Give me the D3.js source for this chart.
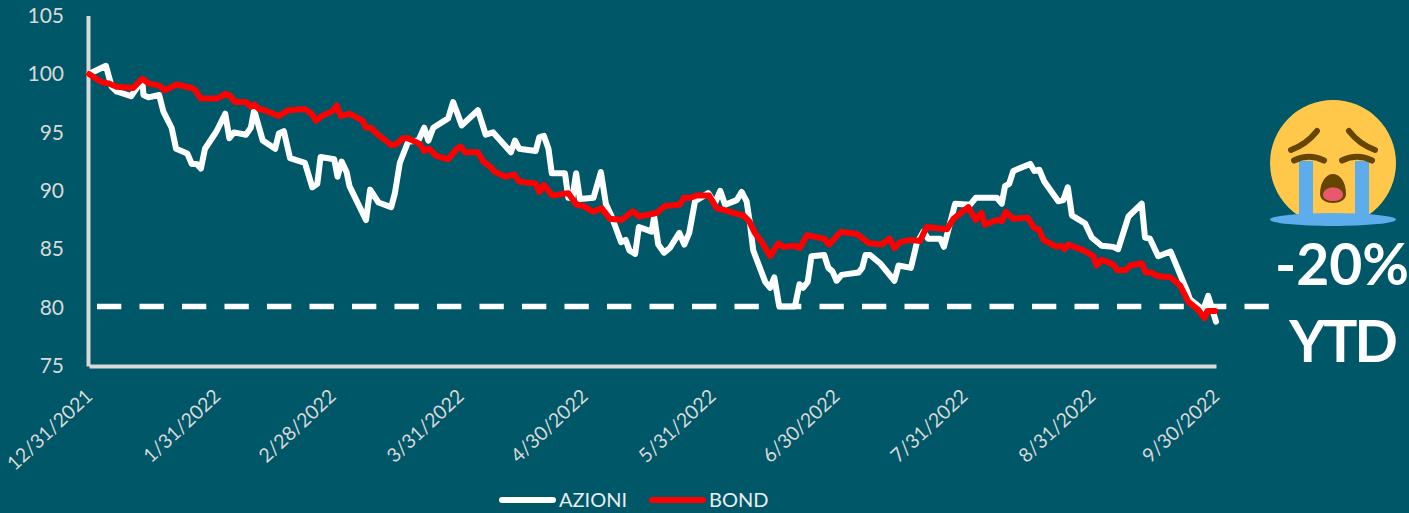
<!DOCTYPE html>
<meta charset="utf-8">
<style>

body {
  margin: 0;
  background: #005768;
}

text {
  font-family: Lato, sans-serif;
}

</style>
<body>
<div id="chart"></div>
</body>

<script src="https://d3js.org/d3.v7.min.js"></script>
<script>

    // days elapsed since 12/31/2021 and index level
    var azioniDays = [0, 4.1, 5.5, 6.7, 10.2, 12.9, 13.2, 14.4, 17, 18, 20, 21.1, 23.8, 24.9, 26.1, 27.1, 28.1, 30.9, 33, 34, 35.1, 38, 39.2, 40, 42.1, 45.1, 46, 47.2, 48.7, 52.3, 54.1, 55.3, 56.1, 59.4, 60.2, 61.2, 62.4, 63.1, 67.1, 68.1, 70.1, 73.2, 74.1, 75.3, 77.3, 79.8, 81.2, 82.2, 83.4, 87, 88.2, 90.3, 94.2, 96.1, 97.9, 102.2, 103.2, 104.2, 108.2, 109.1, 110.2, 111.3, 112.1, 115.3, 116.1, 117.1, 118, 118.9, 122.2, 124, 125.2, 126.6, 128.9, 130, 130.9, 132.3, 133.2, 136.3, 136.9, 137.9, 139.3, 140.7, 143, 144.2, 145.4, 146.8, 150, 151.6, 152.9, 154.1, 156.9, 158.1, 159.3, 160.1, 160.9, 163.8, 165, 166, 167.2, 171, 172.1, 173, 174.1, 175, 178.1, 179.1, 180.1, 181.1, 182.3, 186.4, 187.3, 188.1, 189.2, 191.6, 195.1, 196.1, 199.1, 200.5, 202.1, 203.3, 206.2, 207.1, 209.8, 213.4, 214.8, 219.9, 221.1, 221.9, 222.9, 223.9, 228, 229, 230.2, 231.4, 234.8, 236, 237.1, 238.1, 241.3, 242.9, 245.3, 248.1, 249.3, 251.8, 255, 255.8, 257, 259, 262, 265.9, 266.7, 269.9, 271.1, 273];
    var azioniValues = [100, 100.7, 98.9, 98.5, 98.1, 99.5, 98.2, 98, 98.2, 96.8, 95.4, 93.6, 93.2, 92.3, 92.3, 91.9, 93.6, 95.1, 96.6, 94.5, 95, 94.8, 95.4, 96.9, 94.3, 93.6, 94.9, 95.1, 92.8, 92.4, 90.3, 90.6, 92.9, 92.7, 91.2, 92.5, 91.6, 90.4, 87.5, 90.1, 89, 88.6, 89.8, 92.4, 94.2, 94.3, 95.4, 94.3, 95.4, 96.2, 97.6, 95.6, 96.9, 94.8, 95, 93.3, 94.3, 93.6, 93.4, 94.6, 94.7, 93.6, 91.5, 91.5, 89.4, 89.4, 91.5, 89.3, 89.4, 91.6, 88.9, 87.8, 85.6, 85.8, 84.9, 84.6, 86.9, 86.5, 87.8, 85.4, 84.7, 85.1, 86.4, 85.4, 86.4, 89.1, 89.8, 88.9, 90, 88.8, 89.2, 89.9, 89.1, 87.2, 84.9, 82.2, 81.7, 82.6, 80.1, 80.1, 82, 81.7, 82.2, 84.4, 84.5, 83.4, 83.1, 82.3, 82.8, 83, 83.4, 84.5, 84.5, 83.8, 82.3, 83.6, 83.4, 85.5, 86.5, 85.9, 85.9, 85.2, 88.9, 88.8, 89.4, 89.4, 88.9, 90.4, 90.6, 91.7, 92.3, 91.7, 91.8, 90.8, 89.1, 89.2, 90.3, 87.9, 87.2, 86, 85.3, 85.2, 85, 87.8, 88.9, 86, 85.9, 84.4, 84.8, 81.5, 80.7, 79.8, 81, 78.8];

    var bondDays = [0, 3.1, 4.7, 6.7, 10.7, 12.9, 14.4, 17, 18.4, 21.2, 24.9, 25.8, 27.1, 31.1, 33, 34, 35.4, 38, 39.2, 40, 41.2, 42.6, 45.9, 48.3, 52.3, 53.9, 55, 56.4, 58.9, 60, 61, 63.1, 66.3, 67.1, 68.3, 69.7, 73.3, 74.5, 76, 77.3, 80.2, 81.2, 82.4, 84.1, 87, 89.1, 90, 91.1, 94.2, 95.5, 97.1, 98.4, 100.9, 103, 104.2, 108.2, 109.1, 110.2, 112.2, 116.1, 118.1, 119.7, 122.2, 124.2, 126.2, 129, 131.5, 132, 133.2, 137.5, 139.5, 143, 144.1, 145.6, 147.2, 150.2, 152.1, 153.3, 156.1, 158.5, 159.9, 161.3, 163, 165, 167, 168.2, 171, 172.2, 173.9, 178.1, 179.3, 182.1, 186, 189, 192, 193.9, 195.1, 196.5, 198.9, 201.3, 202.9, 207.8, 209.4, 213, 214.8, 216.2, 217, 219.9, 221.1, 222.1, 223.9, 227.4, 229, 230.1, 231.2, 234.4, 235.6, 236.3, 237.2, 240.9, 243.3, 244.1, 245.3, 248.1, 249.1, 251.1, 252.2, 255, 256, 257.4, 258.7, 262, 264.3, 266.3, 268.7, 270.2, 270.9, 272.8];
    var bondValues = [100, 99.3, 99.2, 98.9, 98.8, 99.6, 99.2, 99, 98.6, 99.1, 98.8, 98.6, 97.9, 97.9, 98.3, 98.2, 97.6, 97.6, 97.2, 97.4, 97, 96.9, 96.4, 96.9, 97, 96.6, 96, 96.4, 96.8, 97.3, 96.4, 96.6, 96, 95.4, 95.4, 94.9, 93.9, 94, 94.5, 94.5, 94, 93.4, 93.6, 93, 92.7, 93.6, 93.8, 93.3, 93.3, 92.5, 92.1, 91.6, 91.2, 91.4, 90.8, 90.6, 89.9, 90.5, 89.6, 89.8, 88.8, 88.7, 88.2, 88.5, 87.6, 87.5, 88.2, 88.2, 87.8, 88.1, 88.7, 88.8, 89.4, 89.4, 89.6, 89.6, 88.5, 88.4, 88.1, 87.9, 87.4, 86.4, 85.6, 84.4, 85.5, 85.2, 85.3, 85.1, 86.2, 85.9, 85.4, 86.5, 86.3, 85.5, 85.4, 85.9, 85.1, 85.6, 85.8, 85.7, 86.9, 86.7, 87.6, 88.6, 87.5, 88.1, 87.1, 87.5, 87.4, 88.2, 87.6, 87.7, 86.8, 86.7, 85.8, 85.2, 85.3, 85, 85.4, 84.9, 84.4, 83.6, 84.1, 83.7, 83.2, 83.2, 83.6, 83.8, 83, 83, 82.7, 82.6, 81.9, 80.5, 79.8, 79.1, 79.7, 79.7];

    var tickDates = ["12/31/2021", "1/31/2022", "2/28/2022", "3/31/2022", "4/30/2022", "5/31/2022", "6/30/2022", "7/31/2022", "8/31/2022", "9/30/2022"];
    var tickValues = [75, 80, 85, 90, 95, 100, 105];
    var targetLevel = 80.1;

    var seriesNames = ["AZIONI", "BOND"];
    var seriesColors = ["#ffffff", "#ff0000"];

    var width = 1409,
            height = 513,
            parseDate = d3.timeParse("%m/%d/%Y"),
            startDate = parseDate(tickDates[0]);

    var x = d3.scaleTime()
            .domain([startDate, parseDate(tickDates[tickDates.length - 1])])
            .range([89, 1216]);

    var y = d3.scaleLinear()
            .domain([75, 105])
            .range([366, 15.6]);

    var svg = d3.select("#chart").append("svg")
            .attr("width", width)
            .attr("height", height)
            .style("display", "block");

    function dayToDate(d) {
        return new Date(startDate.getTime() + d * 864e5);
    }

    function toPoints(days, values) {
        return days.map(function(d, i) {
            return [dayToDate(d), values[i]];
        });
    }

    // axes, no tick marks, labels only
    var yAxis = svg.append("g")
            .attr("transform", "translate(88,0)")
            .call(d3.axisLeft(y).tickValues(tickValues).tickSize(0).tickPadding(24));

    var xAxis = svg.append("g")
            .attr("transform", "translate(0,366)")
            .call(d3.axisBottom(x)
                    .tickValues(tickDates.map(parseDate))
                    .tickFormat(d3.timeFormat("%-m/%-d/%Y"))
                    .tickSize(0));

    yAxis.selectAll("text")
            .style("font-size", "21px")
            .attr("fill", "#d9d9d9");

    xAxis.selectAll("text")
            .style("font-size", "19.5px")
            .attr("fill", "#d9d9d9")
            .attr("text-anchor", "end")
            .attr("dy", "0.32em")
            .attr("transform", "translate(-2,25) rotate(-43)");

    svg.selectAll(".domain")
            .attr("stroke", "#d9d9d9")
            .attr("stroke-width", 4);

    svg.append("line")
            .attr("x1", 97)
            .attr("x2", 1270)
            .attr("y1", y(targetLevel))
            .attr("y2", y(targetLevel))
            .attr("stroke", "#fff")
            .attr("stroke-width", 5.5)
            .attr("stroke-dasharray", "24.3 18.2");

    var line = d3.line()
            .x(function(d) { return x(d[0]); })
            .y(function(d) { return y(d[1]); });

    [toPoints(azioniDays, azioniValues), toPoints(bondDays, bondValues)].forEach(function(points, i) {
        svg.append("path")
                .datum(points)
                .attr("fill", "none")
                .attr("stroke", seriesColors[i])
                .attr("stroke-width", 6)
                .attr("stroke-linejoin", "round")
                .attr("stroke-linecap", "round")
                .attr("d", line);
    });

    // legend
    var legend = svg.selectAll(".legend")
            .data(seriesNames)
            .enter().append("g")
            .attr("class", "legend")
            .attr("transform", function(d, i) { return "translate(" + (502 + i * 150) + ",500)"; });

    legend.append("line")
            .attr("x2", 51)
            .attr("stroke", function(d, i) { return seriesColors[i]; })
            .attr("stroke-width", 6)
            .attr("stroke-linecap", "round");

    legend.append("text")
            .attr("x", 57)
            .attr("y", 7)
            .attr("fill", "#e8eef0")
            .style("font-size", "20px")
            .text(function(d) { return d; });

    // side note
    svg.append("text")
            .attr("x", 1342)
            .attr("y", 285)
            .attr("text-anchor", "middle")
            .attr("fill", "#fff")
            .style("font-size", "57px")
            .style("font-weight", "bold")
            .text("-20%");

    svg.append("text")
            .attr("x", 1342)
            .attr("y", 362)
            .attr("text-anchor", "middle")
            .attr("fill", "#fff")
            .style("font-size", "57px")
            .style("font-weight", "bold")
            .style("letter-spacing", "-3px")
            .text("YTD");

    // crying face
    var face = svg.append("g");

    face.append("circle")
            .attr("cx", 1333).attr("cy", 163).attr("r", 63)
            .attr("fill", "#ffc84a");

    face.selectAll(".tear")
            .data([1299, 1355])
            .enter().append("rect")
            .attr("class", "tear")
            .attr("x", function(d) { return d; })
            .attr("y", 161)
            .attr("width", 14)
            .attr("height", 54)
            .attr("fill", "#5dadec");

    face.append("ellipse")
            .attr("cx", 1333).attr("cy", 219.5).attr("rx", 63).attr("ry", 6.5)
            .attr("fill", "#5dadec");

    face.selectAll(".feature")
            .data([
                "M1317,131 Q1307,144 1291,150",
                "M1349,131 Q1359,144 1375,150",
                "M1294,160.5 Q1309,153 1324,160.5",
                "M1342,160.5 Q1357,153 1372,160.5"
            ])
            .enter().append("path")
            .attr("class", "feature")
            .attr("d", function(d) { return d; })
            .attr("fill", "none")
            .attr("stroke", "#664500")
            .attr("stroke-width", 6)
            .attr("stroke-linecap", "round");

    face.append("path")
            .attr("d", "M1320,194 C1320,182 1326,174 1333,174 C1340,174 1346,182 1346,194 C1346,206 1320,206 1320,194 Z")
            .attr("fill", "#664500");

    face.append("path")
            .attr("d", "M1323,195 C1323,185 1343,185 1343,195 C1343,203 1323,203 1323,195 Z")
            .attr("fill", "#e8596e");

</script>
